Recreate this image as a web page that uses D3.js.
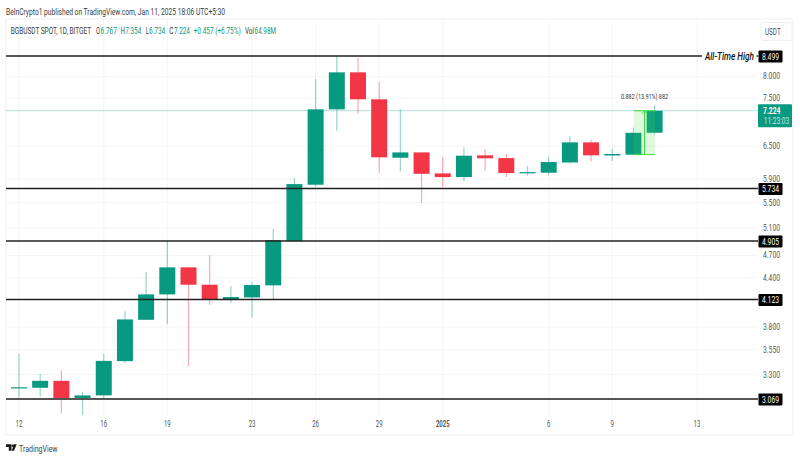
<!DOCTYPE html>
<html>
<head>
<meta charset="utf-8">
<script src="https://cdn.jsdelivr.net/npm/d3@7/dist/d3.min.js"></script>
<style>
  html, body { margin: 0; padding: 0; background: #fff; }
  svg { display: block; }
  text { font-family: Roboto, "Liberation Sans", sans-serif; }
</style>
</head>
<body>
<div id="chart"></div>
<script>
// candles, Dec 12 2024 -> Jan 11 2025
const dates = ["2024-12-12","2024-12-13","2024-12-14","2024-12-15","2024-12-16","2024-12-17","2024-12-18","2024-12-19","2024-12-20","2024-12-21","2024-12-22","2024-12-23","2024-12-24","2024-12-25","2024-12-26","2024-12-27","2024-12-28","2024-12-29","2024-12-30","2024-12-31","2025-01-01","2025-01-02","2025-01-03","2025-01-04","2025-01-05","2025-01-06","2025-01-07","2025-01-08","2025-01-09","2025-01-10","2025-01-11"];
const opens  = [3.175,3.173,3.239,3.067,3.102,3.434,3.883,4.187,4.537,4.309,4.129,4.150,4.301,4.905,5.799,7.254,8.096,7.473,6.283,6.383,5.997,5.932,6.328,6.276,6.003,6.009,6.195,6.576,6.325,6.340,6.767];
const highs  = [3.507,3.305,3.343,3.136,3.507,3.984,4.474,4.920,4.541,4.706,4.292,4.347,5.083,5.920,7.945,8.499,8.456,7.866,7.254,6.389,6.302,6.480,6.447,6.353,6.135,6.302,6.701,6.636,6.447,6.870,7.354];
const lows   = [3.080,3.090,2.945,2.925,3.078,3.414,3.880,3.834,3.387,4.056,4.085,3.911,4.129,4.900,5.759,6.807,7.167,6.008,6.035,5.495,5.764,5.861,6.040,5.932,5.955,5.968,6.175,6.216,6.220,6.335,6.734];
const closes = [3.178,3.239,3.069,3.102,3.437,3.887,4.187,4.537,4.309,4.129,4.154,4.305,4.920,5.810,7.254,8.096,7.473,6.291,6.383,5.990,5.932,6.321,6.272,6.003,6.020,6.203,6.576,6.328,6.353,6.766,7.224];

const priceTicks = [8.0,7.5,6.5,5.9,5.5,5.1,4.7,4.4,3.8,3.55,3.3];
const levels = [8.499,5.734,4.905,4.123,3.069];
const lastPrice = 7.224;
const measureBase = 6.342;
const timeTickDates = ["2024-12-12","2024-12-16","2024-12-19","2024-12-23","2024-12-26","2024-12-29","2025-01-01","2025-01-06","2025-01-09","2025-01-13"];
const timeTickLabels = ["12","16","19","23","26","29","2025","6","9","13"];
const legendText = ["BGBUSDT SPOT, 1D, BITGET","O","6.767","H","7.354","L","6.734","C","7.224","+0.457 (+6.75%)","Vol","64.98M"];
const legendIsValue = [false,false,true,false,true,false,true,false,true,true,false,true];
const legendLeft = [10.7,96,100.6,120.7,125.2,145.7,149,169.3,173.9,193.7,245,254.6];
const legendWidth = [80.6,4,16.3,4.2,16.1,3,16.3,4.2,16.1,47,9,21.4];

const W = 800, H = 460;
const green = "#089981", red = "#f23645", ink = "#3a3a3a";
const paneLeft = 6, paneRight = 758, paneTop = 19, paneBottom = 435, frameRight = 793;
const candleW = 16;

const parse = d3.utcParse("%Y-%m-%d");
const x = d3.scaleUtc().domain([parse("2024-12-12"), parse("2025-01-13")]).range([19, 697]);
const y = d3.scaleLog().domain([3.069, 8.499]).range([399, 56]);

const svg = d3.select("#chart").append("svg").attr("width", W).attr("height", H);

// the reference lettering is condensed, so each label is scaled on x to its measured width
function label(parent, str, px, py, size, fill, width) {
  const t = parent.append("text").attr("font-size", size).attr("fill", fill).text(str);
  t.fit = () => {
    const k = width / t.node().getComputedTextLength();
    t.attr("transform", "translate(" + px + "," + py + ") scale(" + k + ",1)");
    return t;
  };
  return t;
}

svg.append("rect").attr("x", paneLeft).attr("y", paneTop)
  .attr("width", frameRight - paneLeft).attr("height", paneBottom - paneTop)
  .attr("fill", "#fff").attr("stroke", "#f0f0f0");

// grid
svg.append("g").selectAll("line").data(priceTicks).enter().append("line")
  .attr("x1", paneLeft).attr("x2", paneRight)
  .attr("y1", d => y(d)).attr("y2", d => y(d))
  .attr("stroke", "#f4f4f4");
svg.append("g").selectAll("line").data(timeTickDates).enter().append("line")
  .attr("x1", d => x(parse(d))).attr("x2", d => x(parse(d)))
  .attr("y1", paneTop).attr("y2", paneBottom - 20)
  .attr("stroke", "#f4f4f4");

// last price line
svg.append("line").attr("x1", paneLeft).attr("x2", paneRight)
  .attr("y1", y(lastPrice)).attr("y2", y(lastPrice))
  .attr("stroke", green).attr("stroke-opacity", 0.3);

// candles
const candles = dates.map((d, i) => ({ date: parse(d), o: opens[i], h: highs[i], l: lows[i], c: closes[i] }));
const color = d => d.c >= d.o ? green : red;

svg.append("g").selectAll("line").data(candles).enter().append("line")
  .attr("x1", d => x(d.date)).attr("x2", d => x(d.date))
  .attr("y1", d => y(d.h)).attr("y2", d => y(d.l))
  .attr("stroke", color).attr("stroke-opacity", 0.42).attr("stroke-width", 1.2);

svg.append("g").selectAll("rect").data(candles).enter().append("rect")
  .attr("x", d => x(d.date) - candleW / 2)
  .attr("width", candleW)
  .attr("y", d => Math.min(y(d.o), y(d.c)))
  .attr("height", d => Math.max(1.2, Math.abs(y(d.o) - y(d.c))))
  .attr("fill", color);

// level lines
const ath = levels[0];
svg.append("g").selectAll("line").data(levels).enter().append("line")
  .attr("x1", paneLeft)
  .attr("x2", d => d === ath ? 702 : paneRight)
  .attr("y1", d => y(d)).attr("y2", d => y(d))
  .attr("stroke", d => d === 3.069 ? "#555" : "#222")
  .attr("stroke-width", d => d === 3.069 ? 2 : 1.5);
svg.append("line").attr("x1", 756.5).attr("x2", paneRight)
  .attr("y1", y(ath)).attr("y2", y(ath)).attr("stroke", "#222").attr("stroke-width", 1.5);
label(svg, "All-Time High", 705, y(ath) + 3.5, 10.5, "#111", 49)
  .attr("font-style", "italic").attr("font-weight", 500).fit();

// measure tool
const mx0 = x(parse("2025-01-10")) + 0.5, mx1 = x(parse("2025-01-11")) + 0.5, mxc = (mx0 + mx1) / 2;
svg.append("rect").attr("x", mx0).attr("width", mx1 - mx0)
  .attr("y", y(lastPrice)).attr("height", y(measureBase) - y(lastPrice))
  .attr("fill", "#4cdf4c").attr("fill-opacity", 0.18);
[lastPrice, measureBase].forEach(v => {
  svg.append("line").attr("x1", mx0).attr("x2", mx1).attr("y1", y(v)).attr("y2", y(v))
    .attr("stroke", "#3fe03f").attr("stroke-width", 1);
});
svg.append("line").attr("x1", mxc).attr("x2", mxc).attr("y1", y(lastPrice)).attr("y2", y(measureBase))
  .attr("stroke", "#3fe03f").attr("stroke-width", 1);
svg.append("path").attr("fill", "none").attr("stroke", "#3fe03f")
  .attr("d", d3.line()([[mxc - 2.5, y(lastPrice) + 3], [mxc, y(lastPrice)], [mxc + 2.5, y(lastPrice) + 3]]));
label(svg, "0.882 (13.91%) 882", mxc, y(lastPrice) - 12, 7.6, "#333", 47).attr("text-anchor", "middle").fit();

// price axis
priceTicks.forEach(d => {
  label(svg, d3.format(".3f")(d), 771.5, y(d) + 3, 9, "#555", 17).attr("text-anchor", "middle").fit();
});
levels.forEach(d => {
  svg.append("rect").attr("x", paneRight + 0.5).attr("width", 24).attr("y", y(d) - 5.5).attr("height", 12)
    .attr("rx", 1).attr("fill", "#000");
  label(svg, d3.format(".3f")(d), paneRight + 12.5, y(d) + 3.8, 9, "#fff", 17).attr("text-anchor", "middle").fit();
});

svg.append("rect").attr("x", paneRight).attr("width", 34).attr("y", y(lastPrice) - 6.5).attr("height", 23)
  .attr("rx", 1).attr("fill", green);
label(svg, "7.224", 763, y(lastPrice) + 3.2, 9, "#fff", 17.5).attr("font-weight", 700).fit();
label(svg, "11:23:03", 763.7, y(lastPrice) + 13, 8.6, "#c6e8e1", 25.5).fit();

svg.append("rect").attr("x", 761).attr("y", 22.5).attr("width", 31).attr("height", 18).attr("rx", 2)
  .attr("fill", "#fff").attr("stroke", "#eee");
label(svg, "USDT", 765, 34.5, 9, "#555", 15.7).fit();

// time axis
timeTickDates.forEach((d, i) => {
  const t = timeTickLabels[i];
  label(svg, t, x(parse(d)), 427, 8.6, "#555", t.length * 3.4).attr("text-anchor", "middle")
    .attr("font-weight", t === "2025" ? 700 : 400).fit();
});

// header
label(svg, "BeInCrypto1 published on TradingView.com, Jan 11, 2025 18:06 UTC+5:30", 6, 14.5, 9.4, ink, 219).fit();
legendText.forEach((t, i) => {
  label(svg, t, legendLeft[i], 34, 9, legendIsValue[i] ? green : ink, legendWidth[i]).fit();
});

// TradingView mark
const logo = svg.append("g").attr("fill", "#1a1a1a").attr("transform", "translate(6,444.3)");
logo.append("path").attr("d", "M0 0H5.5V6.4H2.8V2.8H0Z");
logo.append("circle").attr("cx", 7).attr("cy", 1.4).attr("r", 1.3);
logo.append("path").attr("d", "M8 0H10.7L8 6.4H5.6Z");
label(svg, "TradingView", 19, 451.5, 9, "#444", 38.7).fit();
</script>
</body>
</html>
